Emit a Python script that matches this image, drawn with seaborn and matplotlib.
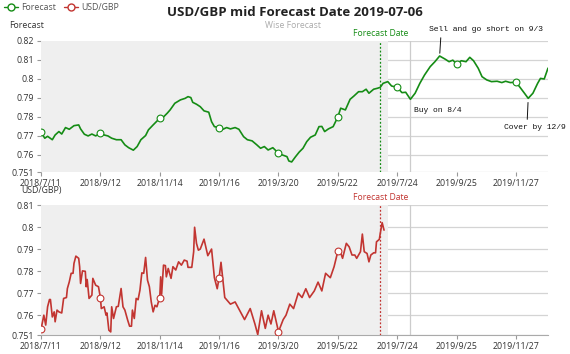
import numpy as np
import pandas as pd
import matplotlib
matplotlib.use("Agg")
import matplotlib.pyplot as plt
import seaborn as sns
from matplotlib.lines import Line2D

# ---------------- data ----------------
start_date = "2018-07-11"
forecast_date = "2019-07-06"
shade_end = "2019-07-14"
buy_line_date = "2019-08-07"
x_end = "2019-12-31"

forecast_days = [0, 4, 7, 12, 15, 19, 22, 26, 30, 35, 40, 42, 46, 50, 54, 58, 63, 67, 71, 75,
                 80, 85, 89, 93, 98, 102, 106, 111, 114, 119, 126, 130, 134, 137, 142, 148, 153,
                 156, 159, 161, 165, 169, 173, 178, 181, 184, 189, 193, 197, 201, 206, 210, 215,
                 219, 224, 229, 233, 237, 241, 246, 252, 256, 261, 263, 266, 270, 274, 278, 282,
                 286, 291, 295, 298, 301, 305, 310, 315, 318, 323, 328, 332, 337, 341, 345, 348,
                 353, 357, 360, 363, 368, 372, 378, 383, 387, 392, 397, 402, 407, 413, 418, 423,
                 429, 433, 437, 441, 446, 451, 455, 459, 464, 468, 473, 478, 484, 489, 493, 498,
                 504, 508, 513, 517, 522, 527, 530, 534, 538]
forecast_vals = [0.7720, 0.7688, 0.7698, 0.7680, 0.7705, 0.7723, 0.7710, 0.7744, 0.7735, 0.7754,
                 0.7758, 0.7737, 0.7709, 0.7700, 0.7710, 0.7700, 0.7714, 0.7705, 0.7700, 0.7688,
                 0.7680, 0.7680, 0.7653, 0.7638, 0.7625, 0.7644, 0.7680, 0.7702, 0.7732, 0.7758,
                 0.7793, 0.7800, 0.7820, 0.7837, 0.7872, 0.7890, 0.7898, 0.7907, 0.7902, 0.7877,
                 0.7867, 0.7854, 0.7832, 0.7825, 0.7775, 0.7749, 0.7744, 0.7735, 0.7744, 0.7737,
                 0.7744, 0.7735, 0.7696, 0.7680, 0.7674, 0.7653, 0.7635, 0.7644, 0.7626, 0.7638,
                 0.7609, 0.7600, 0.7591, 0.7568, 0.7563, 0.7590, 0.7615, 0.7635, 0.7670, 0.7693,
                 0.7705, 0.7749, 0.7750, 0.7723, 0.7737, 0.7749, 0.7800, 0.7846, 0.7837, 0.7893,
                 0.7910, 0.7933, 0.7933, 0.7946, 0.7925, 0.7946, 0.7951, 0.7956, 0.7977, 0.7986,
                 0.7963, 0.7956, 0.7928, 0.7930, 0.7893, 0.7925, 0.7977, 0.8021, 0.8065, 0.8091,
                 0.8121, 0.8104, 0.8091, 0.8099, 0.8079, 0.8096, 0.8091, 0.8114, 0.8096, 0.8056,
                 0.8012, 0.7995, 0.7986, 0.7988, 0.7981, 0.7988, 0.7981, 0.7983, 0.7958, 0.7925,
                 0.7898, 0.7925, 0.7977, 0.8003, 0.8000, 0.8057]
marker_days_top = [0, 63, 126, 189, 252, 315, 378, 441, 504]

usdgbp_days = [0, 2, 3, 5, 7, 9, 10, 12, 14, 15, 17, 19, 22, 24, 27, 28, 30, 32, 34, 35, 37, 40,
               41, 42, 44, 47, 48, 49, 51, 54, 55, 58, 61, 63, 64, 67, 69, 70, 72, 74, 75, 77,
               80, 82, 85, 87, 89, 92, 94, 96, 97, 99, 101, 103, 105, 107, 109, 111, 113, 115,
               117, 119, 121, 123, 126, 127, 128, 130, 132, 133, 135, 138, 140, 143, 146, 149,
               152, 155, 156, 160, 162, 163, 165, 167, 169, 173, 177, 181, 184, 187, 189, 191,
               195, 201, 206, 211, 216, 222, 227, 230, 234, 238, 241, 244, 247, 252, 257, 260,
               264, 268, 273, 277, 281, 285, 290, 294, 298, 302, 307, 311, 315, 317, 320, 324,
               327, 330, 333, 335, 337, 339, 341, 343, 346, 348, 350, 353, 355, 356, 359, 360,
               362, 364]
usdgbp_vals = [0.7535, 0.7577, 0.7600, 0.7555, 0.7638, 0.7671, 0.7671, 0.7592, 0.7615, 0.7570,
               0.7623, 0.7615, 0.7610, 0.7676, 0.7680, 0.7721, 0.7751, 0.7790, 0.7790, 0.7835,
               0.7868, 0.7858, 0.7820, 0.7744, 0.7801, 0.7799, 0.7729, 0.7762, 0.7676, 0.7691,
               0.7767, 0.7736, 0.7729, 0.7680, 0.7630, 0.7638, 0.7600, 0.7610, 0.7532, 0.7524,
               0.7638, 0.7585, 0.7638, 0.7640, 0.7721, 0.7638, 0.7623, 0.7577, 0.7550, 0.7550,
               0.7623, 0.7585, 0.7676, 0.7670, 0.7714, 0.7792, 0.7790, 0.7862, 0.7759, 0.7729,
               0.7660, 0.7615, 0.7645, 0.7638, 0.7680, 0.7774, 0.7695, 0.7827, 0.7825, 0.7774,
               0.7812, 0.7767, 0.7820, 0.7805, 0.7842, 0.7827, 0.7850, 0.7845, 0.7817, 0.7817,
               0.7888, 0.7999, 0.7926, 0.7895, 0.7900, 0.7945, 0.7870, 0.7900, 0.7770, 0.7720,
               0.7770, 0.7840, 0.7680, 0.7650, 0.7660, 0.7620, 0.7580, 0.7630, 0.7560, 0.7512,
               0.7620, 0.7540, 0.7600, 0.7560, 0.7620, 0.7525, 0.7580, 0.7600, 0.7650, 0.7630,
               0.7700, 0.7680, 0.7720, 0.7680, 0.7710, 0.7750, 0.7710, 0.7790, 0.7770, 0.7820,
               0.7890, 0.7895, 0.7858, 0.7926, 0.7910, 0.7873, 0.7873, 0.7858, 0.7873, 0.7888,
               0.7968, 0.7888, 0.7880, 0.7842, 0.7873, 0.7883, 0.7883, 0.7933, 0.7944, 0.7971,
               0.8020, 0.7986]
marker_days_bottom = [0, 63, 126, 189, 252, 315]

x_tick_labels = ["2018/7/11", "2018/9/12", "2018/11/14", "2019/1/16", "2019/3/20",
                 "2019/5/22", "2019/7/24", "2019/9/25", "2019/11/27"]
top_yticks = [0.751, 0.76, 0.77, 0.78, 0.79, 0.80, 0.81, 0.82]
top_ytick_labels = ["0.751", "0.76", "0.77", "0.78", "0.79", "0.8", "0.81", "0.82"]
bot_yticks = [0.751, 0.76, 0.77, 0.78, 0.79, 0.80, 0.81]
bot_ytick_labels = ["0.751", "0.76", "0.77", "0.78", "0.79", "0.8", "0.81"]

sell_day, buy_day, cover_day = 423, 392, 517
sell_text = "Sell and go short on 9/3"
buy_text = "Buy on 8/4"
cover_text = "Cover by 12/9"

# ---------------- frames ----------------
t0 = pd.Timestamp(start_date)
top_df = pd.DataFrame({"date": t0 + pd.to_timedelta(forecast_days, unit="D"),
                       "value": forecast_vals, "day": forecast_days})
bot_df = pd.DataFrame({"date": t0 + pd.to_timedelta(usdgbp_days, unit="D"),
                       "value": usdgbp_vals, "day": usdgbp_days})
top_mk = top_df[top_df["day"].isin(marker_days_top)]
bot_mk = bot_df[bot_df["day"].isin(marker_days_bottom)]
tick_dates = pd.to_datetime(x_tick_labels, format="%Y/%m/%d")

# ---------------- style ----------------
sns.set_style("white")
plt.rcParams["font.family"] = ["Open Sans", "DejaVu Sans"]

GREEN = "#158c15"
RED = "#c23531"
TXT = "#333333"
GRID = "#d4d4d4"
SHADE = "#efefef"

W, H = 570, 354
fig = plt.figure(figsize=(W / 100, H / 100), dpi=100)
ax1 = fig.add_axes([41 / W, 1 - 172 / H, 507 / W, 131 / H])
ax2 = fig.add_axes([41 / W, 1 - 335 / H, 507 / W, 130 / H])

fdate = pd.Timestamp(forecast_date)


def style_axis(ax, yticks, ylabels, color, df, mk):
    ax.set_axisbelow(True)
    ax.grid(axis="y", color=GRID, lw=0.9)
    ax.grid(axis="x", visible=False)
    ax.axvspan(t0, pd.Timestamp(shade_end), color=SHADE, lw=0, zorder=1)
    ax.axvline(pd.Timestamp(buy_line_date), color="#cccccc", lw=0.9, zorder=1.5)
    sns.lineplot(data=df, x="date", y="value", ax=ax, color=color, lw=1.2, zorder=3)
    sns.scatterplot(data=mk, x="date", y="value", ax=ax, s=24, facecolor="white",
                    edgecolor=color, linewidth=0.8, zorder=4)
    ax.axvline(fdate, color=color, lw=0.9, ls=(0, (1.5, 1.5)), zorder=5)
    ax.annotate("Forecast Date", xy=(fdate, 1), xycoords=("data", "axes fraction"),
                xytext=(0, 2.5), textcoords="offset points", ha="center", va="bottom",
                fontsize=6.2, color=color)
    ax.set_xlim(t0, pd.Timestamp(x_end))
    ax.set_ylim(yticks[0], yticks[-1])
    ax.set_yticks(yticks)
    ax.set_yticklabels(ylabels)
    ax.set_xticks(tick_dates)
    ax.set_xticklabels(x_tick_labels)
    ax.set_xlabel("")
    ax.set_ylabel("")
    ax.tick_params(axis="both", labelsize=6.3, labelcolor=TXT, color="#999999",
                   length=3, width=0.8, left=True, bottom=True, pad=2)
    for s in ["top", "right", "left"]:
        ax.spines[s].set_visible(False)


style_axis(ax1, top_yticks, top_ytick_labels, GREEN, top_df, top_mk)
style_axis(ax2, bot_yticks, bot_ytick_labels, RED, bot_df, bot_mk)
ax1.spines["bottom"].set_visible(False)
ax2.spines["bottom"].set_color("#aaaaaa")
ax2.spines["bottom"].set_linewidth(0.8)

# annotations on the forecast
mono = dict(family=["Liberation Mono", "DejaVu Sans Mono"], fontsize=5.8, color="#111111")
row = top_df.set_index("day")
sd, sv = row.loc[sell_day, "date"], row.loc[sell_day, "value"]
bd, bv = row.loc[buy_day, "date"], row.loc[buy_day, "value"]
cd, cv = row.loc[cover_day, "date"], row.loc[cover_day, "value"]
ax1.annotate(sell_text, xy=(sd, sv), xytext=(-8, 19), textcoords="offset points",
             ha="left", va="center", annotation_clip=False, **mono,
             arrowprops=dict(arrowstyle="-", color="#111111", lw=0.7,
                             relpos=(0.11, 0), shrinkA=1, shrinkB=2))
ax1.annotate(buy_text, xy=(bd, bv), xytext=(2.5, -8), textcoords="offset points",
             ha="left", va="center", **mono)
ax1.annotate(cover_text, xy=(cd, cv), xytext=(4.5, -21), textcoords="offset points",
             ha="center", va="center", annotation_clip=False, **mono,
             arrowprops=dict(arrowstyle="-", color="#111111", lw=0.7,
                             relpos=(0.38, 1), shrinkA=1, shrinkB=3))

# figure texts
fig.text(295 / W, 1 - 12 / H, "USD/GBP mid Forecast Date 2019-07-06", ha="center",
         va="center", fontsize=9.5, fontweight="bold", color="#222222")
fig.text(293 / W, 1 - 26 / H, "Wise Forecast", ha="center", va="center",
         fontsize=6.2, color="#aaaaaa")
fig.text(27 / W, 1 - 26 / H, "Forecast", ha="center", va="center", fontsize=6.3, color=TXT)
fig.text(41 / W, 1 - 191 / H, "USD/GBP)", ha="center", va="center", fontsize=6.3, color=TXT)

handles = [Line2D([0], [0], color=GREEN, lw=1, marker="o", markersize=5,
                  markerfacecolor="white", markeredgecolor=GREEN),
           Line2D([0], [0], color=RED, lw=1, marker="o", markersize=5,
                  markerfacecolor="white", markeredgecolor=RED)]
fig.legend(handles, ["Forecast", "USD/GBP"], loc="center left",
           bbox_to_anchor=(4 / W, 1 - 8 / H), ncol=2, frameon=False, fontsize=6.3,
           labelcolor="#555555", handlelength=1.6, handletextpad=0.4,
           columnspacing=0.9, borderpad=0, borderaxespad=0)

fig.savefig("out.png", dpi=100)
